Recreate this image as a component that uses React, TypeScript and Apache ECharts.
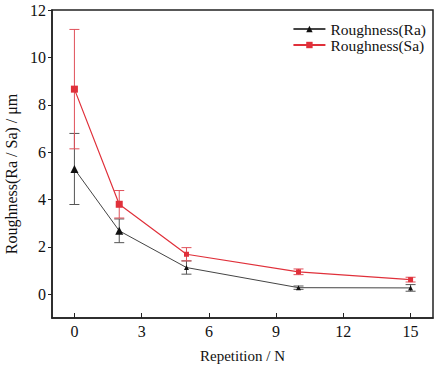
import React, { useEffect, useRef } from "react";
import * as echarts from "echarts";

const repetitions = [0, 2, 5, 10, 15];
const raValues = [5.29, 2.68, 1.13, 0.28, 0.27];
const raErrors = [1.5, 0.5, 0.28, 0.07, 0.14];
const saValues = [8.66, 3.8, 1.69, 0.95, 0.62];
const saErrors = [2.52, 0.58, 0.28, 0.12, 0.1];
const xTicks = [0, 3, 6, 9, 12, 15];
const yTicks = [0, 2, 4, 6, 8, 10, 12];

const FONT = "Times New Roman, Liberation Serif, Times, serif";

function errorData(vals: number[], errs: number[]) {
  return repetitions.map((x, i) => [x, vals[i] - errs[i], vals[i] + errs[i]]);
}

function errorSeries(name: string, vals: number[], errs: number[], color: string) {
  return {
    type: "custom",
    name: name + "-err",
    data: errorData(vals, errs),
    z: 1,
    renderItem: (params: any, api: any) => {
      const x = api.value(0);
      const lo = api.coord([x, api.value(1)]);
      const hi = api.coord([x, api.value(2)]);
      const w = 5;
      const style = { stroke: color, lineWidth: 1 };
      return {
        type: "group",
        children: [
          { type: "line", shape: { x1: lo[0], y1: lo[1], x2: hi[0], y2: hi[1] }, style },
          { type: "line", shape: { x1: lo[0] - w, y1: lo[1], x2: lo[0] + w, y2: lo[1] }, style },
          { type: "line", shape: { x1: hi[0] - w, y1: hi[1], x2: hi[0] + w, y2: hi[1] }, style },
        ],
      };
    },
  };
}

const markerSize = (big: number, small: number) => (_v: any, p: any) =>
  p && p.dataIndex !== undefined && p.dataIndex >= 2 ? small : big;

export default function App() {
  const ref = useRef<HTMLDivElement>(null);
  useEffect(() => {
    if (!ref.current) return;
    const chart = echarts.init(ref.current, undefined, { renderer: "svg" });
    chart.setOption({
      animation: false,
      backgroundColor: "#ffffff",
      textStyle: { fontFamily: FONT },
      grid: {
        left: 52,
        top: 10,
        right: 2,
        bottom: 48,
        outerBoundsMode: "none",
        containLabel: false,
        show: true,
        borderColor: "#222",
        borderWidth: 1.5,
      },
      legend: {
        right: 4,
        top: 16,
        orient: "vertical",
        itemWidth: 32,
        itemHeight: 8,
        itemGap: 0,
        data: ["Roughness(Ra)", "Roughness(Sa)"],
        textStyle: { fontFamily: FONT, fontSize: 15.5, color: "#111" },
      },
      xAxis: {
        type: "value",
        min: -1,
        max: 16,
        name: "Repetition / N",
        nameLocation: "middle",
        nameGap: 30,
        nameTextStyle: { fontFamily: FONT, fontSize: 15, color: "#111" },
        axisLine: { show: true, onZero: false, lineStyle: { color: "#222", width: 1.5 } },
        axisTick: { show: true, inside: true, length: 5, customValues: xTicks, lineStyle: { color: "#222" } },
        axisLabel: { customValues: xTicks, fontFamily: FONT, fontSize: 16, color: "#111", margin: 5 },
        splitLine: { show: false },
      },
      yAxis: {
        type: "value",
        min: -1,
        max: 12,
        name: "Roughness(Ra / Sa) / μm",
        nameLocation: "middle",
        nameGap: 33,
        nameTextStyle: { fontFamily: FONT, fontSize: 16, color: "#111", padding: [0, 20, 0, 0] },
        axisLine: { show: true, onZero: false, lineStyle: { color: "#222", width: 1.5 } },
        axisTick: { show: true, inside: false, length: 4, customValues: yTicks, lineStyle: { color: "#222" } },
        axisLabel: { customValues: yTicks, fontFamily: FONT, fontSize: 16, color: "#111", margin: 6 },
        splitLine: { show: false },
      },
      series: [
        errorSeries("Ra", raValues, raErrors, "#555"),
        errorSeries("Sa", saValues, saErrors, "#e0505a"),
        {
          type: "line",
          name: "Roughness(Ra)",
          data: repetitions.map((x, i) => [x, raValues[i]]),
          symbol: "triangle",
          symbolSize: markerSize(8, 5),
          z: 3,
          lineStyle: { color: "#444", width: 1 },
          itemStyle: { color: "#111" },
        },
        {
          type: "line",
          name: "Roughness(Sa)",
          data: repetitions.map((x, i) => [x, saValues[i]]),
          symbol: "rect",
          symbolSize: markerSize(7, 5),
          z: 3,
          lineStyle: { color: "#e0303a", width: 1.2 },
          itemStyle: { color: "#e0303a" },
        },
      ],
    });
    return () => chart.dispose();
  }, []);
  return <div ref={ref} style={{ width: 435, height: 366, position: "absolute", left: 0, top: 0 }} />;
}
